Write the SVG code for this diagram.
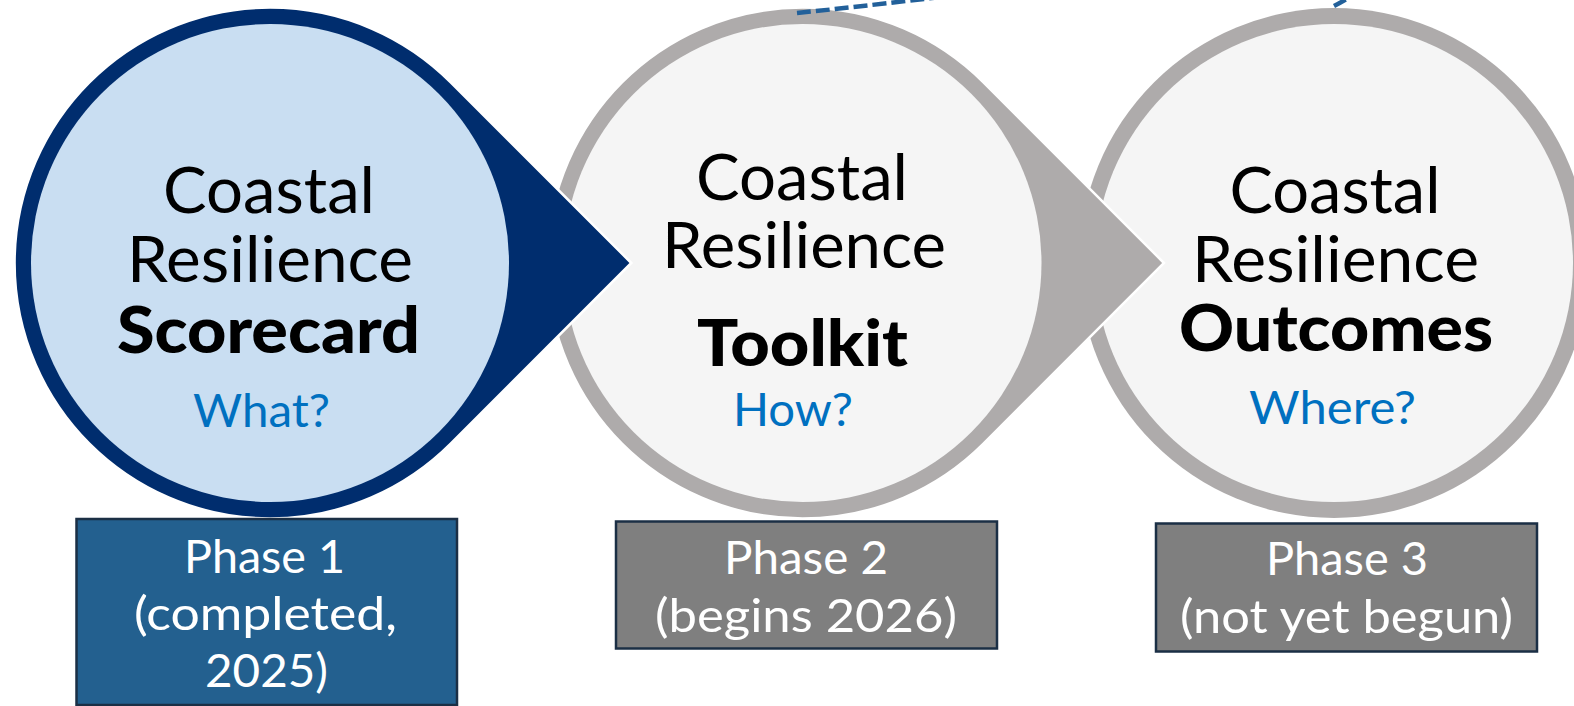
<svg xmlns="http://www.w3.org/2000/svg" width="1574" height="706" viewBox="0 0 1574 706">
<style>
.t{font-family:Lato,"Noto Sans","Liberation Sans",sans-serif;text-anchor:middle}
.big{font-size:64px;fill:#000;font-weight:400}
.bold{font-size:64px;fill:#000;font-weight:900}
.q{font-size:46px;fill:#0070C0;font-weight:400}
.box{font-size:46px;fill:#fff;font-weight:400}
.ring3{fill:#AEABAB}
.inner-g{fill:#F5F5F5}
.tear-g{fill:#AEABAB;stroke:#fff;stroke-width:2.5}
.tear-n{fill:#002D6E;stroke:#fff;stroke-width:2.5}
.inner-b{fill:#C9DEF2}
.rb{stroke:#1B2F45;stroke-width:2.5}
.conn{fill:none;stroke:#22609A;stroke-width:4.5;stroke-dasharray:14 5}
</style>
<g id="node-outcomes">
<circle class="ring3" cx="1334" cy="263" r="255"/>
<circle class="inner-g" cx="1334" cy="263" r="239"/>
<text class="t big" x="1335" y="213" textLength="211" lengthAdjust="spacingAndGlyphs">Coastal</text>
<text class="t big" x="1335.5" y="282" textLength="287" lengthAdjust="spacingAndGlyphs">Resilience</text>
<text class="t bold" x="1336" y="351" textLength="314" lengthAdjust="spacingAndGlyphs">Outcomes</text>
<text class="t q" x="1332.5" y="424" textLength="167" lengthAdjust="spacingAndGlyphs">Where?</text>
</g>
<g id="node-toolkit">
<path class="tear-g" d="M1164 263 L983.2 82.2 A255.5 255.5 0 1 0 983.2 443.8 Z"/>
<circle class="inner-g" cx="802.5" cy="263" r="239"/>
<text class="t big" x="802" y="200" textLength="212" lengthAdjust="spacingAndGlyphs">Coastal</text>
<text class="t big" x="804" y="268" textLength="284" lengthAdjust="spacingAndGlyphs">Resilience</text>
<text class="t bold" x="802.5" y="365.5" textLength="211" lengthAdjust="spacingAndGlyphs">Toolkit</text>
<text class="t q" x="793" y="426" textLength="120" lengthAdjust="spacingAndGlyphs">How?</text>
</g>
<g id="node-scorecard">
<path class="tear-n" d="M631.3 263 L450.7 82.3 A255.5 255.5 0 1 0 450.7 443.7 Z"/>
<circle class="inner-b" cx="270" cy="263" r="239"/>
<text class="t big" x="269" y="213" textLength="212" lengthAdjust="spacingAndGlyphs">Coastal</text>
<text class="t big" x="270" y="282" textLength="286" lengthAdjust="spacingAndGlyphs">Resilience</text>
<text class="t bold" x="268.5" y="353" textLength="303" lengthAdjust="spacingAndGlyphs">Scorecard</text>
<text class="t q" x="261.5" y="427" textLength="137" lengthAdjust="spacingAndGlyphs">What?</text>
</g>
<g id="node-phase1">
<rect class="rb" x="76.5" y="519" width="380.5" height="186" fill="#23608F"/>
<text class="t box" x="264.5" y="573" textLength="161" lengthAdjust="spacingAndGlyphs">Phase 1</text>
<text class="t box" x="265.5" y="630" textLength="263" lengthAdjust="spacingAndGlyphs">(completed,</text>
<text class="t box" x="266.5" y="687" textLength="123" lengthAdjust="spacingAndGlyphs">2025)</text>
</g>
<g id="node-phase2">
<rect class="rb" x="616" y="521.5" width="381" height="127" fill="#7F7F7F"/>
<text class="t box" x="806" y="574" textLength="164" lengthAdjust="spacingAndGlyphs">Phase 2</text>
<text class="t box" x="806" y="631.5" textLength="302" lengthAdjust="spacingAndGlyphs">(begins 2026)</text>
</g>
<g id="node-phase3">
<rect class="rb" x="1156" y="523.5" width="381" height="128" fill="#7F7F7F"/>
<text class="t box" x="1347" y="575" textLength="162" lengthAdjust="spacingAndGlyphs">Phase 3</text>
<text class="t box" x="1346.5" y="633" textLength="333" lengthAdjust="spacingAndGlyphs">(not yet begun)</text>
</g>
<g id="connectors">
<path class="conn" d="M797 13 C1000 -7 1500 -80 1334 6"/>
</g>
</svg>
